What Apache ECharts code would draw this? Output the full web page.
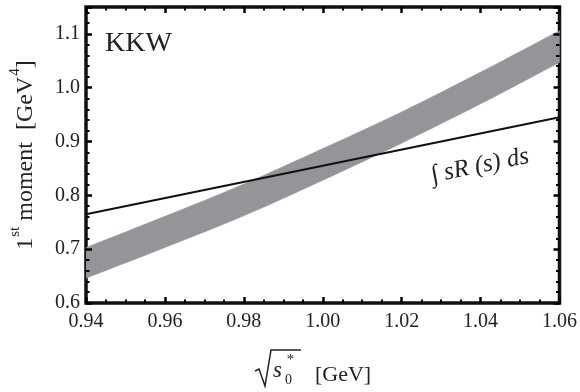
<!DOCTYPE html>
<html>
<head>
<meta charset="utf-8">
<script src="https://cdn.jsdelivr.net/npm/echarts@6/dist/echarts.min.js"></script>
<style>html,body{margin:0;padding:0;background:#fff}#c{width:580px;height:392px}</style>
</head>
<body>
<div id="c"></div>
<script>
// Data
const xValues = [0.94, 0.96, 0.98, 1.00, 1.02, 1.04, 1.06];
const bandLower = [0.646, 0.703, 0.762, 0.828, 0.897, 0.970, 1.047];
const bandUpper = [0.703, 0.761, 0.821, 0.887, 0.955, 1.029, 1.106];
const lineX = [0.94, 1.06];
const lineY = [0.765, 0.945];
const xTicks = [0.94, 0.96, 0.98, 1.00, 1.02, 1.04, 1.06];
const yTicks = [0.6, 0.7, 0.8, 0.9, 1.0, 1.1];

const serif = '"Liberation Serif", "Times New Roman", serif';
const chart = echarts.init(document.getElementById('c'), null, {renderer: 'canvas'});

const lineData = lineX.map((x, i) => [x, lineY[i]]);
const bandData = xValues.map((x, i) => [x, bandLower[i], bandUpper[i]]);

const xMin = xTicks[0], xMax = xTicks[xTicks.length - 1];
const yMin = yTicks[0], yMax = 1.15;

function xAxisCfg(pos, showLabel) {
  return {
    type: 'value', position: pos, min: xMin, max: xMax, interval: 0.02, z: 10,
    axisLine: {show: false},
    splitLine: {show: false},
    axisTick: {show: true, inside: true, length: 6, lineStyle: {color: '#000', width: 2.5}},
    minorTick: {show: true, splitNumber: 4, length: 3.5, lineStyle: {color: '#000', width: 2}},
    axisLabel: {show: showLabel, margin: 9, color: '#222', fontFamily: serif, fontSize: 20,
      formatter: v => v.toFixed(2)}
  };
}
function yAxisCfg(pos, showLabel) {
  return {
    type: 'value', position: pos, min: yMin, max: yMax, interval: 0.1, z: 10,
    axisLine: {show: false},
    splitLine: {show: false},
    axisTick: {show: true, inside: true, length: 6, lineStyle: {color: '#000', width: 2.5}},
    minorTick: {show: true, splitNumber: 5, length: 3.5, lineStyle: {color: '#000', width: 2}},
    axisLabel: {show: showLabel, margin: 6, color: '#222', fontFamily: serif, fontSize: 20,
      showMaxLabel: false,
      formatter: v => (Math.abs(v * 10 - Math.round(v * 10)) < 1e-6 ? v.toFixed(1) : '')}
  };
}

const yAx = yAxisCfg('left', true);
yAx.name = '{n|1}{sup|st}{n| moment  [GeV}{sup|4}{n|]}';
yAx.nameLocation = 'middle';
yAx.nameRotate = 90;
yAx.nameGap = 48;
yAx.nameTextStyle = {
  color: '#222', fontFamily: serif, fontSize: 24,
  rich: {
    n: {fontFamily: serif, fontSize: 24, color: '#222', lineHeight: 30, verticalAlign: 'bottom'},
    sup: {fontFamily: serif, fontSize: 15, color: '#222', lineHeight: 30, verticalAlign: 'top', padding: [0, 0, 0, 1]}
  }
};

const option = {
  animation: false,
  backgroundColor: '#fff',
  grid: {left: 82, right: 20, top: 7, bottom: 89, show: true, borderColor: '#111', borderWidth: 3.5, backgroundColor: 'transparent'},
  xAxis: [xAxisCfg('bottom', true), xAxisCfg('top', false)],
  yAxis: [yAx, yAxisCfg('right', false)],
  series: [
    {type: 'custom', name: 'band', data: [0], silent: true, z: 2, clip: true,
      renderItem: function (params, api) {
        const upper = bandData.map(d => api.coord([d[0], d[2]]));
        const lower = bandData.map(d => api.coord([d[0], d[1]])).reverse();
        // duplicate the end points so the smoothed outline keeps sharp corners
        const pts = [upper[0]].concat(upper, [upper[upper.length - 1]], [lower[0]], lower, [lower[lower.length - 1]]);
        return {
          type: 'polygon',
          shape: {points: pts, smooth: 0.35},
          style: {fill: '#939598', stroke: '#939598', lineWidth: 0.5}
        };
      }},
    {type: 'line', name: 'integral', data: lineData, symbol: 'none',
      lineStyle: {color: '#111', width: 2}, silent: true, z: 5}
  ],
  graphic: [
    {type: 'text', left: 105, top: 30, style: {text: 'KKW', fontFamily: serif, fontSize: 28, fill: '#222'}},
    {type: 'text', x: 480, y: 166, rotation: 0.2, style: {
      text: '\u222B sR (s) ds', fontFamily: serif, fontStyle: 'italic', fontSize: 25, fill: '#222',
      align: 'center', verticalAlign: 'middle'}},
    // x-axis name: sqrt(s0*) [GeV]
    {type: 'polyline', shape: {points: [[255, 371], [259, 369], [265, 386], [271, 350], [301, 350]]},
      style: {stroke: '#222', lineWidth: 1.5, fill: null}},
    {type: 'text', x: 273, y: 382, style: {text: 's', fontFamily: serif, fontStyle: 'italic', fontSize: 23, fill: '#222', verticalAlign: 'bottom'}},
    {type: 'text', x: 285, y: 387, style: {text: '0', fontFamily: serif, fontSize: 14, fill: '#222', verticalAlign: 'bottom'}},
    {type: 'text', x: 286, y: 353, style: {text: '*', fontFamily: serif, fontStyle: 'italic', fontSize: 15, fill: '#222', verticalAlign: 'top'}},
    {type: 'text', x: 315, y: 386, style: {text: '[GeV]', fontFamily: serif, fontSize: 22, fill: '#222', verticalAlign: 'bottom'}}
  ]
};
chart.setOption(option);
</script>
</body>
</html>
